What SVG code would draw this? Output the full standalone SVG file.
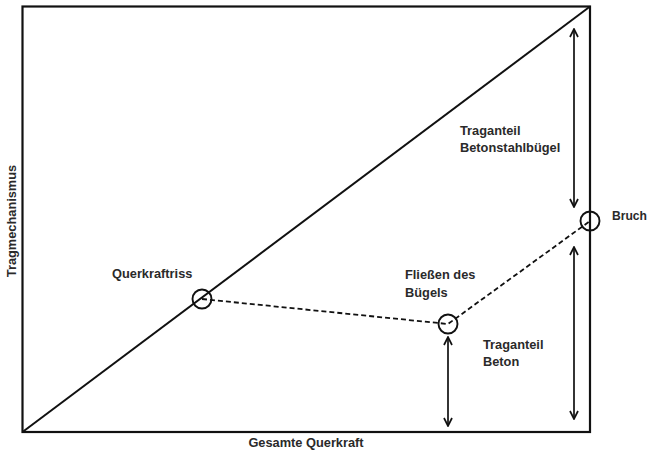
<svg xmlns="http://www.w3.org/2000/svg" width="649" height="453" viewBox="0 0 649 453">
  <style>
    .lbl { font-family: "Liberation Sans", Arial, sans-serif; font-size: 12.8px; font-weight: bold; fill: #2a2a2a; }
    .frame { fill: none; stroke: #111; stroke-width: 2.2; }
    .diag { fill: none; stroke: #111; stroke-width: 2; }
    .dash { fill: none; stroke: #111; stroke-width: 1.8; stroke-dasharray: 5 3; }
    .mark { fill: none; stroke: #111; stroke-width: 1.9; }
    .dim { fill: none; stroke: #111; stroke-width: 1.7; marker-start: url(#tip); marker-end: url(#tip); }
  </style>
  <defs>
    <marker id="tip" viewBox="0 0 10 10" refX="9" refY="5" markerWidth="10" markerHeight="10" markerUnits="userSpaceOnUse" orient="auto-start-reverse">
      <path d="M1,1 L9,5 L1,9" fill="none" stroke="#111" stroke-width="1.7"/>
    </marker>
  </defs>

  <rect x="0" y="0" width="649" height="453" fill="#fff"/>

  <!-- chart frame and diagonal -->
  <g id="frame">
    <rect class="frame" x="22.5" y="6.5" width="567.5" height="425.5"/>
    <line class="diag" x1="22.5" y1="432" x2="590" y2="6.5"/>
  </g>

  <!-- connectors: load path and dimension arrows -->
  <g id="connectors">
    <polyline class="dash" points="202,299 448,324 590,221"/>
    <line class="dim" x1="574" y1="29" x2="574" y2="207"/>
    <line class="dim" x1="574" y1="247" x2="574" y2="419"/>
    <line class="dim" x1="448" y1="337" x2="448" y2="426"/>
  </g>

  <g id="querkraftriss">
    <circle class="mark" cx="202" cy="299" r="9.5"/>
    <text class="lbl" x="112" y="278">Querkraftriss</text>
  </g>

  <g id="fliessen">
    <circle class="mark" cx="448" cy="324" r="9.5"/>
    <text class="lbl" x="405" y="279">Fließen des</text>
    <text class="lbl" x="405" y="297">Bügels</text>
  </g>

  <g id="bruch">
    <circle class="mark" cx="590" cy="221" r="9.5"/>
    <text class="lbl" x="612" y="220" textLength="35" lengthAdjust="spacingAndGlyphs">Bruch</text>
  </g>

  <g id="traganteil-buegel">
    <text class="lbl" x="460" y="135">Traganteil</text>
    <text class="lbl" x="460" y="152">Betonstahlbügel</text>
  </g>

  <g id="traganteil-beton">
    <text class="lbl" x="483" y="349">Traganteil</text>
    <text class="lbl" x="483" y="366">Beton</text>
  </g>

  <g id="axes">
    <text class="lbl" x="306" y="447" text-anchor="middle">Gesamte Querkraft</text>
    <text class="lbl" transform="translate(16,221) rotate(-90)" text-anchor="middle">Tragmechanismus</text>
  </g>
</svg>
